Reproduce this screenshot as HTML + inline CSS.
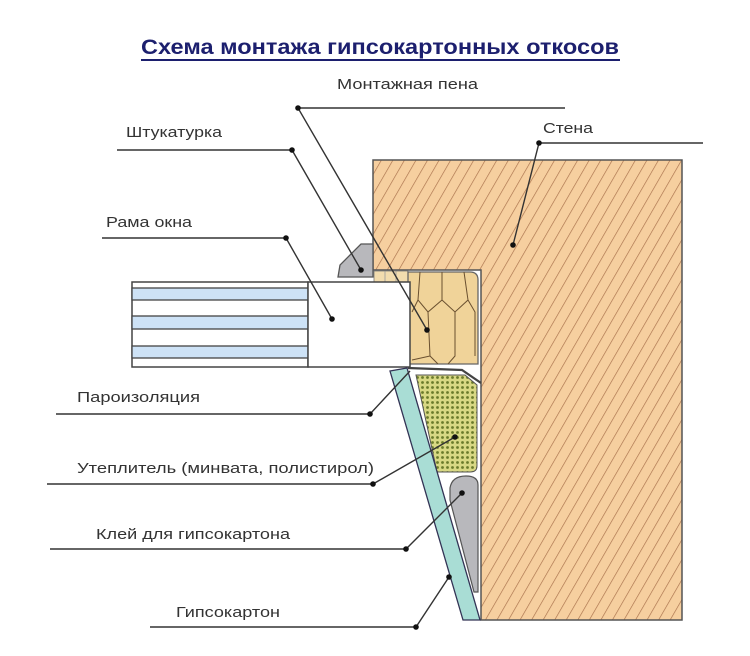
<!DOCTYPE html>
<html><head><meta charset="utf-8"><style>
html,body{margin:0;padding:0;background:#fff;}
svg{display:block;}
text{font-family:"Liberation Sans","DejaVu Sans",sans-serif;}
</style></head><body>
<svg width="750" height="656" viewBox="0 0 750 656" xmlns="http://www.w3.org/2000/svg">
<defs>
<pattern id="hatch" patternUnits="userSpaceOnUse" width="10" height="10" patternTransform="rotate(30)">
<rect width="10" height="10" fill="#f6cf9f"/>
<line x1="0" y1="0" x2="0" y2="10" stroke="#a8704a" stroke-width="1.3"/>
</pattern>
<pattern id="dots" patternUnits="userSpaceOnUse" width="5" height="5">
<rect width="5" height="5" fill="#d8d884"/>
<circle cx="2.5" cy="2.5" r="1.4" fill="#6a7a2a"/>
</pattern>
</defs>

<!-- title -->
<text x="380" y="54" text-anchor="middle" font-size="21" font-weight="bold" fill="#1c1f6e" textLength="478" lengthAdjust="spacingAndGlyphs">Схема монтажа гипсокартонных откосов</text>
<line x1="141" y1="60" x2="620" y2="60" stroke="#1c1f6e" stroke-width="2"/>

<!-- wall -->
<path d="M373 160 H682 V620 H481 V270 H373 Z" fill="url(#hatch)" stroke="#555" stroke-width="1.5"/>

<!-- sealant strip above frame -->
<rect x="374" y="271" width="34" height="11" fill="#f2dcae" stroke="#777" stroke-width="0.8"/>
<line x1="385" y1="271" x2="385" y2="282" stroke="#999" stroke-width="0.8"/>
<line x1="396" y1="271" x2="396" y2="282" stroke="#999" stroke-width="0.8"/>

<!-- plaster -->
<path d="M338 277 L340 265 L361 244 L373 244 L373 277 Z" fill="#b8b8bc" stroke="#555" stroke-width="1.3"/>

<!-- foam -->
<path d="M408 272 H470 Q478 272 478 280 V364 H408 Z" fill="#f0d399" stroke="#666" stroke-width="1.3"/>
<g fill="none" stroke="#6a5030" stroke-width="1">
<path d="M420 272 L418 300 L428 312 L442 300 L442 272"/>
<path d="M442 300 L455 312 L468 300 L464 272"/>
<path d="M418 300 L412 312"/>
<path d="M428 312 L430 356 L438 364"/>
<path d="M455 312 L455 356 L448 364"/>
<path d="M468 300 L475 312 L475 356"/>
<path d="M430 356 L412 360"/>
</g>

<!-- glass unit -->
<rect x="132" y="282" width="176" height="85" fill="#fff" stroke="#444" stroke-width="1.5"/>
<rect x="132" y="288" width="176" height="12" fill="#cde2f6" stroke="#444" stroke-width="1.3"/>
<rect x="132" y="316" width="176" height="13" fill="#cde2f6" stroke="#444" stroke-width="1.3"/>
<rect x="132" y="346" width="176" height="12" fill="#cde2f6" stroke="#444" stroke-width="1.3"/>
<!-- frame -->
<rect x="308" y="282" width="102" height="85" fill="#fff" stroke="#444" stroke-width="1.5"/>

<!-- insulation -->
<path d="M416 375 H465 L477 385 V466 Q477 472 470 472 H437 Z" fill="url(#dots)" stroke="#555" stroke-width="1"/>
<!-- vapor barrier -->
<path d="M408 368 L462 370 L481 383" fill="none" stroke="#444" stroke-width="2.2"/>

<!-- glue -->
<path d="M450 488 Q452 476 466 476 Q478 476 478 485 V592 L474 592 L450 500 Z" fill="#b8b8bc" stroke="#555" stroke-width="1.2"/>

<!-- drywall -->
<path d="M390 371 L407 368 L480 620 L463 620 Z" fill="#a9ddd5" stroke="#335" stroke-width="1.3"/>

<!-- leaders -->
<g stroke="#333" stroke-width="1.4" fill="none">
<path d="M565 108 H298 L427 330"/>
<path d="M117 150 H292 L361 270"/>
<path d="M102 238 H286 L332 319"/>
<path d="M703 143 H539 L513 245"/>
<path d="M56 414 H370 L410 371"/>
<path d="M47 484 H373 L455 437"/>
<path d="M50 549 H406 L462 493"/>
<path d="M150 627 H416 L449 577"/>
</g>
<g fill="#111">
<circle cx="298" cy="108" r="2.8"/><circle cx="427" cy="330" r="2.8"/>
<circle cx="292" cy="150" r="2.8"/><circle cx="361" cy="270" r="2.8"/>
<circle cx="286" cy="238" r="2.8"/><circle cx="332" cy="319" r="2.8"/>
<circle cx="539" cy="143" r="2.8"/><circle cx="513" cy="245" r="2.8"/>
<circle cx="370" cy="414" r="2.8"/>
<circle cx="373" cy="484" r="2.8"/><circle cx="455" cy="437" r="2.8"/>
<circle cx="406" cy="549" r="2.8"/><circle cx="462" cy="493" r="2.8"/>
<circle cx="416" cy="627" r="2.8"/><circle cx="449" cy="577" r="2.8"/>
</g>

<!-- labels -->
<g font-size="15" fill="#333">
<text x="337" y="89" textLength="141" lengthAdjust="spacingAndGlyphs">Монтажная пена</text>
<text x="126" y="137" textLength="96" lengthAdjust="spacingAndGlyphs">Штукатурка</text>
<text x="106" y="227" textLength="86" lengthAdjust="spacingAndGlyphs">Рама окна</text>
<text x="543" y="133" textLength="50" lengthAdjust="spacingAndGlyphs">Стена</text>
<text x="77" y="402" textLength="123" lengthAdjust="spacingAndGlyphs">Пароизоляция</text>
<text x="77" y="473" textLength="297" lengthAdjust="spacingAndGlyphs">Утеплитель (минвата, полистирол)</text>
<text x="96" y="539" textLength="194" lengthAdjust="spacingAndGlyphs">Клей для гипсокартона</text>
<text x="176" y="617" textLength="104" lengthAdjust="spacingAndGlyphs">Гипсокартон</text>
</g>
</svg>
</body></html>
